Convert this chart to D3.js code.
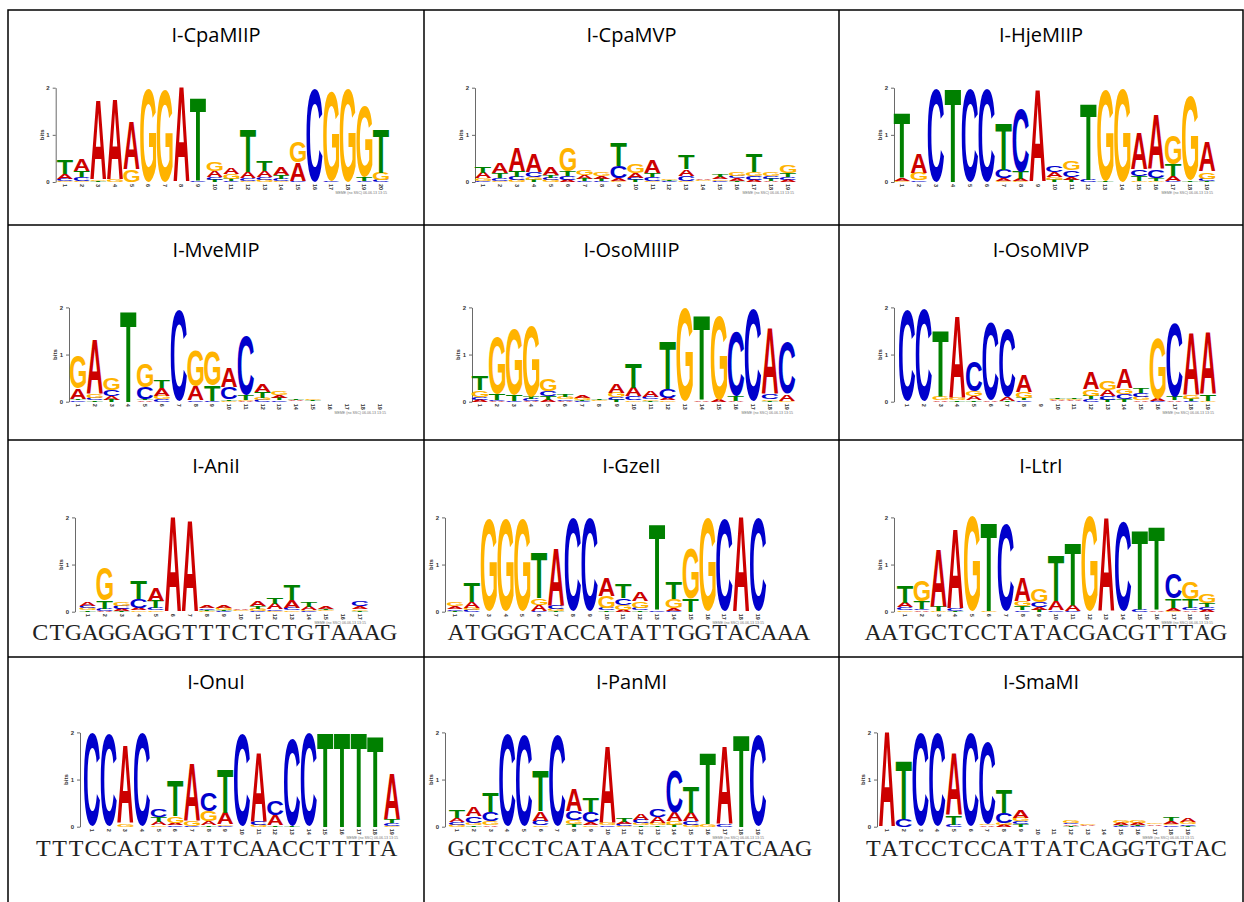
<!DOCTYPE html>
<html><head><meta charset="utf-8">
<script src="https://cdn.jsdelivr.net/npm/d3@7"></script>
<style>body{margin:0;background:#fff}</style>
</head><body>
<svg id="chart" width="1244" height="902"></svg>
<script>
// ---------- DATA ----------
const bases = ["A","C","G","T"];
const baseColors = ["#CC0000","#0000CC","#FFB300","#008000"];
const yTickValues = [0,1,2];
const titles = ["I-CpaMIIP","I-CpaMVP","I-HjeMIIP","I-MveMIP","I-OsoMIIIP","I-OsoMIVP",
                "I-AniI","I-GzeII","I-LtrI","I-OnuI","I-PanMI","I-SmaMI"];
const sequences = ["","","","","","",
  "CTGAGGAGGTTTCTCTGTAAAG","ATGGGTACCATATTGGTACAAA","AATGCTCCTATACGACGTTTAG",
  "TTTCCACTTATTCAACCTTTTA","GCTCCTCATAATCCTTATCAAG","TATCCTCCATTATCAGGTGTAC"];
const creditText = "MEME (no SSC) 06.06.13 13:15";

// heights in bits per position, order [A, C, G, T]
const logoCpaMIIP = [
 [0.10,0.04,0.03,0.30],[0.25,0.08,0.03,0.12],[1.68,0,0.03,0.02],[1.70,0,0.04,0.01],[1.00,0,0.26,0],
 [0,0,1.97,0],[0,0,1.95,0],[2.0,0,0,0],[0,0.03,0,1.75],[0.14,0.06,0.20,0.04],
 [0.12,0.02,0.10,0.05],[0.14,0.05,0.03,0.90],[0.14,0.06,0.04,0.22],[0.17,0.04,0.03,0.08],[0.39,0.02,0.44,0],
 [0,1.98,0,0],[0,0.02,1.90,0],[0,0,1.97,0],[0,0.03,1.50,0.08],[0,0.04,0.16,0.93]];
const logoCpaMVP = [
 [0.12,0.03,0.05,0.13],[0.22,0.06,0.03,0.10],[0.50,0.07,0.04,0.12],[0.38,0.10,0.06,0.05],[0.16,0.05,0.04,0.06],
 [0.05,0.08,0.50,0.10],[0.08,0.03,0.10,0.04],[0.06,0.02,0.07,0.04],[0.05,0.25,0.03,0.48],[0.10,0.05,0.18,0.04],
 [0.28,0.07,0.03,0.08],[0.01,0.02,0.03,0.02],[0.14,0.10,0.03,0.30],[0.03,0.01,0.015,0.01],[0.04,0.03,0.03,0.045],
 [0.05,0.05,0.07,0.03],[0.05,0.08,0.09,0.37],[0.03,0.05,0.07,0.04],[0.05,0.06,0.17,0.07]];
const logoHjeMIIP = [
 [0.06,0,0.03,1.38],[0.40,0.03,0.16,0],[0,1.97,0,0],[0,0,0,1.97],[0,1.97,0,0],
 [0,1.97,0,0],[0.05,0.18,0.03,0.97],[0.05,1.35,0.02,0.15],[1.95,0,0,0],[0.10,0.14,0.06,0.04],
 [0.06,0.14,0.20,0.05],[0,0.05,0,1.60],[0,0,1.92,0.02],[0,0,1.97,0],[0.75,0.14,0.03,0.10],
 [1.15,0.17,0.03,0.06],[0.10,0.02,0.62,0.25],[0,0,1.78,0.03],[0.62,0.04,0.15,0.03]];
const logoMveMIP = [
 [0.22,0.03,0.70,0.03],[1.15,0.05,0.08,0.03],[0.07,0.13,0.24,0.04],[0,0,0,1.92],[0.03,0.24,0.50,0.03],
 [0.15,0.05,0.08,0.16],[0,1.93,0,0],[0.30,0.03,0.75,0],[0,0.02,0.72,0.32],[0.42,0.25,0.02,0.03],
 [0.02,1.25,0.02,0.10],[0.16,0.04,0.04,0.12],[0.06,0.03,0.08,0.05],[0.02,0.01,0.01,0.03],[0.01,0.01,0.03,0.02],
 [0,0,0,0],[0,0,0,0],[0,0,0,0],[0,0,0,0]];
const logoOsoMIIIP = [
 [0.04,0.05,0.15,0.30],[0.02,0.02,1.20,0.13],[0,0.02,1.40,0.12],[0.02,0.04,1.50,0.05],[0.04,0.10,0.24,0.08],
 [0.02,0.03,0.04,0.05],[0.05,0.02,0.04,0.02],[0.01,0.01,0.02,0.03],[0.20,0.05,0.10,0.04],[0.18,0.08,0.03,0.52],
 [0.12,0.04,0.03,0.02],[0.04,0.20,0.03,1.00],[0,0,1.98,0],[0.03,0,0,1.77],[0.04,0,1.78,0],
 [0.02,1.38,0,0.10],[0,1.96,0,0],[1.40,0.10,0.03,0.02],[0.14,1.10,0.02,0]];
const logoOsoMIVP = [
 [0,1.94,0,0],[0,1.96,0,0],[0.03,0,0.08,1.40],[1.72,0,0.04,0.03],[0.08,0.65,0.10,0.03],
 [0.03,1.65,0,0],[0.08,1.45,0,0.02],[0.35,0.03,0.13,0.04],[0.003,0.003,0.003,0.003],[0.02,0.01,0.02,0.02],
 [0.02,0.01,0.02,0.02],[0.35,0.05,0.14,0.07],[0.12,0.08,0.18,0.04],[0.42,0.10,0.12,0.06],[0.03,0.09,0.07,0.10],
 [0.05,0.02,1.28,0],[0.03,1.55,0,0.07],[1.30,0.02,0.07,0.04],[1.30,0,0.02,0.14]];
const logoAniI = [
 [0.08,0.05,0.04,0.03],[0.02,0.04,0.70,0.17],[0.04,0.07,0.08,0.02],[0.05,0.18,0.03,0.38],[0.28,0.05,0.03,0.15],
 [1.99,0,0,0],[1.91,0,0,0],[0.04,0.03,0.02,0.02],[0.06,0.02,0.04,0.02],[0.03,0.01,0.02,0.01],
 [0.10,0.02,0.04,0.05],[0.12,0.03,0.02,0.13],[0.16,0.05,0.03,0.32],[0.07,0.02,0.02,0.10],[0.05,0.01,0.02,0.03],
 [0.01,0.01,0.01,0.01],[0.06,0.12,0.03,0.02]];
const logoGzeII = [
 [0.06,0.03,0.07,0.02],[0.12,0.04,0.04,0.40],[0,0,1.96,0],[0,0,1.96,0],[0,0,1.96,0],
 [0.12,0.02,0.15,0.95],[1.20,0.08,0.04,0.02],[0,1.99,0,0],[0,1.98,0,0],[0.38,0.05,0.25,0.03],
 [0.04,0.15,0.10,0.30],[0.20,0.05,0.14,0.03],[0,0.03,0,1.80],[0.06,0.02,0.18,0.35],[0,0,1.05,0.28],
 [0,0,1.98,0],[0,1.96,0,0],[1.99,0,0,0],[0,1.98,0,0]];
const logoLtrI = [
 [0.10,0.06,0.03,0.35],[0.03,0.03,0.45,0.15],[1.20,0,0.02,0.10],[1.67,0.04,0,0.02],[0,0,2.0,0],
 [0,0,0.02,1.85],[0,1.85,0,0],[0.50,0.03,0.12,0.08],[0.06,0.10,0.28,0.04],[0.20,0.03,0,0.95],
 [0.12,0.02,0,1.30],[0,0,2.0,0],[1.98,0,0,0],[0,1.91,0,0],[0,0.05,0,1.68],
 [0.03,0,0,1.75],[0.06,0.52,0.02,0.20],[0.03,0.04,0.35,0.20],[0.04,0.06,0.18,0.08]];
const logoOnuI = [
 [0,1.99,0,0],[0,1.96,0,0],[1.64,0,0.06,0],[0,1.99,0,0],[0.08,0.17,0.03,0.10],
 [0.05,0.03,0.15,0.75],[1.20,0.02,0.12,0],[0.08,0.40,0.22,0.03],[0.25,0.02,0.03,0.92],[0,1.96,0,0],
 [1.45,0.08,0.04,0],[0.22,0.30,0,0.03],[0,1.84,0,0.02],[0,1.98,0,0],[0,0,0,1.99],
 [0,0,0,1.99],[0,0,0,1.99],[0,0,0,1.92],[0.95,0.06,0.02,0.08]];
const logoPanMI = [
 [0.08,0.06,0.04,0.15],[0.20,0.15,0.05,0.03],[0.03,0.20,0.08,0.42],[0,1.96,0,0],[0,1.92,0,0],
 [0.20,0.10,0.03,0.85],[0,1.94,0,0],[0.45,0.20,0.08,0.05],[0.06,0.22,0.03,0.30],[1.60,0.03,0.06,0],
 [0.05,0.04,0.02,0.09],[0.13,0.07,0.05,0.03],[0.12,0.16,0.05,0.03],[0.18,0.90,0.08,0.04],[0.18,0.08,0.04,0.55],
 [0,0,0.06,1.50],[1.65,0.05,0,0],[0,0,0,1.94],[0,1.94,0,0]];
const logoSmaMI = [
 [1.99,0,0,0],[0,0.17,0,1.22],[0,1.98,0,0],[0,1.98,0,0],[1.30,0.04,0,0.20],
 [0,1.98,0,0],[0.03,1.72,0.03,0],[0.04,0.22,0.04,0.50],[0.15,0.06,0.08,0.05],[0.003,0.003,0.003,0.003],
 [0.003,0.003,0.003,0.003],[0.03,0.03,0.05,0.02],[0.02,0.01,0.03,0.01],[0.003,0.003,0.003,0.003],[0.04,0.02,0.05,0.02],
 [0.04,0.02,0.05,0.02],[0.03,0.01,0.03,0.01],[0.06,0.03,0.03,0.07],[0.07,0.03,0.05,0.02]];
const logos = [logoCpaMIIP,logoCpaMVP,logoHjeMIIP,logoMveMIP,logoOsoMIIIP,logoOsoMIVP,
               logoAniI,logoGzeII,logoLtrI,logoOnuI,logoPanMI,logoSmaMI];

// ---------- LAYOUT ----------
const W = 1244, H = 902;
const colEdges = [8, 424, 839, 1243];
const rowEdges = [10, 225, 440, 657, 910];
const titleBaselines = [42, 257, 473, 689];
const bitsHeight = 94.3;
const panelGeom = [
 {ax:55.7, y0:182, x1:65, xN:381},
 {ax:475, y0:182, x1:483, xN:788},
 {ax:894, y0:182, x1:902, xN:1207},
 {ax:69, y0:401.7, x1:78, xN:380},
 {ax:472, y0:401.7, x1:480, xN:787},
 {ax:894, y0:401.7, x1:907, xN:1208},
 {ax:75, y0:611.7, x1:87.7, xN:360},
 {ax:445, y0:611.7, x1:455, xN:758},
 {ax:894, y0:611.7, x1:905, xN:1207},
 {ax:80, y0:826.7, x1:92, xN:392},
 {ax:445, y0:826.7, x1:457, xN:758},
 {ax:877, y0:826.7, x1:887, xN:1188}];
const seqGeom = [null,null,null,null,null,null,
 {x0:32,x1:397,y:640},{x0:448,x1:810,y:640},{x0:865,x1:1227,y:640},
 {x0:35,x1:397,y:856},{x0:448,x1:812,y:856},{x0:865,x1:1227,y:856}];

const svg = d3.select("#chart");
svg.append("rect").attr("width",W).attr("height",H).attr("fill","#fff");

// glyph ink metrics
const FS = 200;
const LETTER_FONT = '"Liberation Sans", Arial, sans-serif';
const ctx = document.createElement("canvas").getContext("2d");
ctx.font = `bold ${FS}px ${LETTER_FONT}`;
const glyph = {};
bases.forEach(b => {
  const m = ctx.measureText(b);
  glyph[b] = {l:m.actualBoundingBoxLeft, r:m.actualBoundingBoxRight, a:m.actualBoundingBoxAscent, d:m.actualBoundingBoxDescent};
});

logos.forEach((logo, i) => {
  const g = panelGeom[i];
  const col = i % 3, row = Math.floor(i / 3);
  const cx = (colEdges[col] + colEdges[col+1]) / 2;
  const panel = svg.append("g").attr("class","panel");
  panel.append("text").attr("x",cx).attr("y",titleBaselines[row])
    .attr("text-anchor","middle").attr("font-family",'"Open Sans", "Noto Sans", sans-serif')
    .attr("font-size",20).attr("fill","#000").text(titles[i]);

  const n = logo.length;
  const x = d3.scaleLinear().domain([1,n]).range([g.x1, g.xN]);
  const step = (g.xN - g.x1) / (n - 1);
  const lw = step * 0.96;
  const y = d3.scaleLinear().domain([0,2]).range([g.y0, g.y0 - bitsHeight]);

  // y axis
  const axis = d3.axisLeft(y).tickValues(yTickValues).tickSize(3).tickSizeOuter(0).tickFormat(d3.format("d"));
  const ag = panel.append("g").attr("transform",`translate(${g.ax},0)`).call(axis);
  ag.selectAll("text").attr("font-size",6).attr("font-family","Liberation Sans, Arial, sans-serif").attr("font-weight","bold").attr("fill","#333");
  ag.selectAll("line,path").attr("stroke","#444").attr("stroke-width",0.8);
  panel.append("text").attr("transform",`translate(${g.ax-12},${y(1)}) rotate(-90)`)
    .attr("text-anchor","middle").attr("font-size",6).attr("font-weight","bold")
    .attr("font-family","Liberation Sans, Arial, sans-serif").attr("fill","#333").text("bits");

  // position labels
  panel.selectAll("text.pos").data(d3.range(1, n+1)).join("text").attr("class","pos")
    .attr("transform", d => `translate(${x(d)},${g.y0+2}) rotate(90)`)
    .attr("dy","0.35em").attr("font-size",5.5).attr("font-weight","bold")
    .attr("font-family","Liberation Sans, Arial, sans-serif").attr("fill","#333")
    .text(d => d);

  // letter stacks
  logo.forEach((vals, pi) => {
    const stack = bases.map((b,k) => ({b, k, v: vals[k]})).filter(s => s.v >= 0.008)
      .sort((a,b) => a.v - b.v);
    let cum = 0;
    stack.forEach(s => {
      const yBot = y(cum), yTop = y(cum + s.v);
      cum += s.v;
      const h = yBot - yTop;
      const gm = glyph[s.b];
      const iw = gm.l + gm.r, ih = gm.a + gm.d;
      const x0 = x(pi + 1) - lw / 2;
      panel.append("text")
        .attr("transform",`translate(${x0},${yTop}) scale(${lw/iw},${h/ih}) translate(${gm.l},${gm.a})`)
        .attr("font-size",FS).attr("font-weight","bold").attr("font-family",LETTER_FONT)
        .attr("fill", baseColors[s.k]).text(s.b);
    });
  });

  // credit
  panel.append("text").attr("x", g.xN + 6).attr("y", g.y0 + 12).attr("text-anchor","end")
    .attr("font-size",3.6).attr("font-family","Liberation Sans, Arial, sans-serif").attr("fill","#777")
    .text(creditText);

  // sequence text
  const sg = seqGeom[i];
  if (sg && sequences[i]) {
    const seq = sequences[i];
    const cw = (sg.x1 - sg.x0) / seq.length;
    const xs = d3.range(seq.length).map(k => (sg.x0 + cw * (k + 0.5)).toFixed(2)).join(" ");
    panel.append("text").attr("x", xs).attr("y", sg.y).attr("text-anchor","middle")
      .attr("font-family",'"Liberation Serif", "Times New Roman", serif').attr("font-size",24)
      .attr("fill","#222").text(seq);
  }
});

// grid
const grid = svg.append("g").attr("stroke","#000").attr("stroke-width",1.5).attr("fill","none");
grid.append("rect").attr("x",colEdges[0]).attr("y",rowEdges[0])
  .attr("width",colEdges[3]-colEdges[0]).attr("height",rowEdges[4]-rowEdges[0]);
[1,2].forEach(c => grid.append("line").attr("x1",colEdges[c]).attr("x2",colEdges[c]).attr("y1",rowEdges[0]).attr("y2",H));
[1,2,3].forEach(r => grid.append("line").attr("x1",colEdges[0]).attr("x2",colEdges[3]).attr("y1",rowEdges[r]).attr("y2",rowEdges[r]));
</script>
</body></html>
